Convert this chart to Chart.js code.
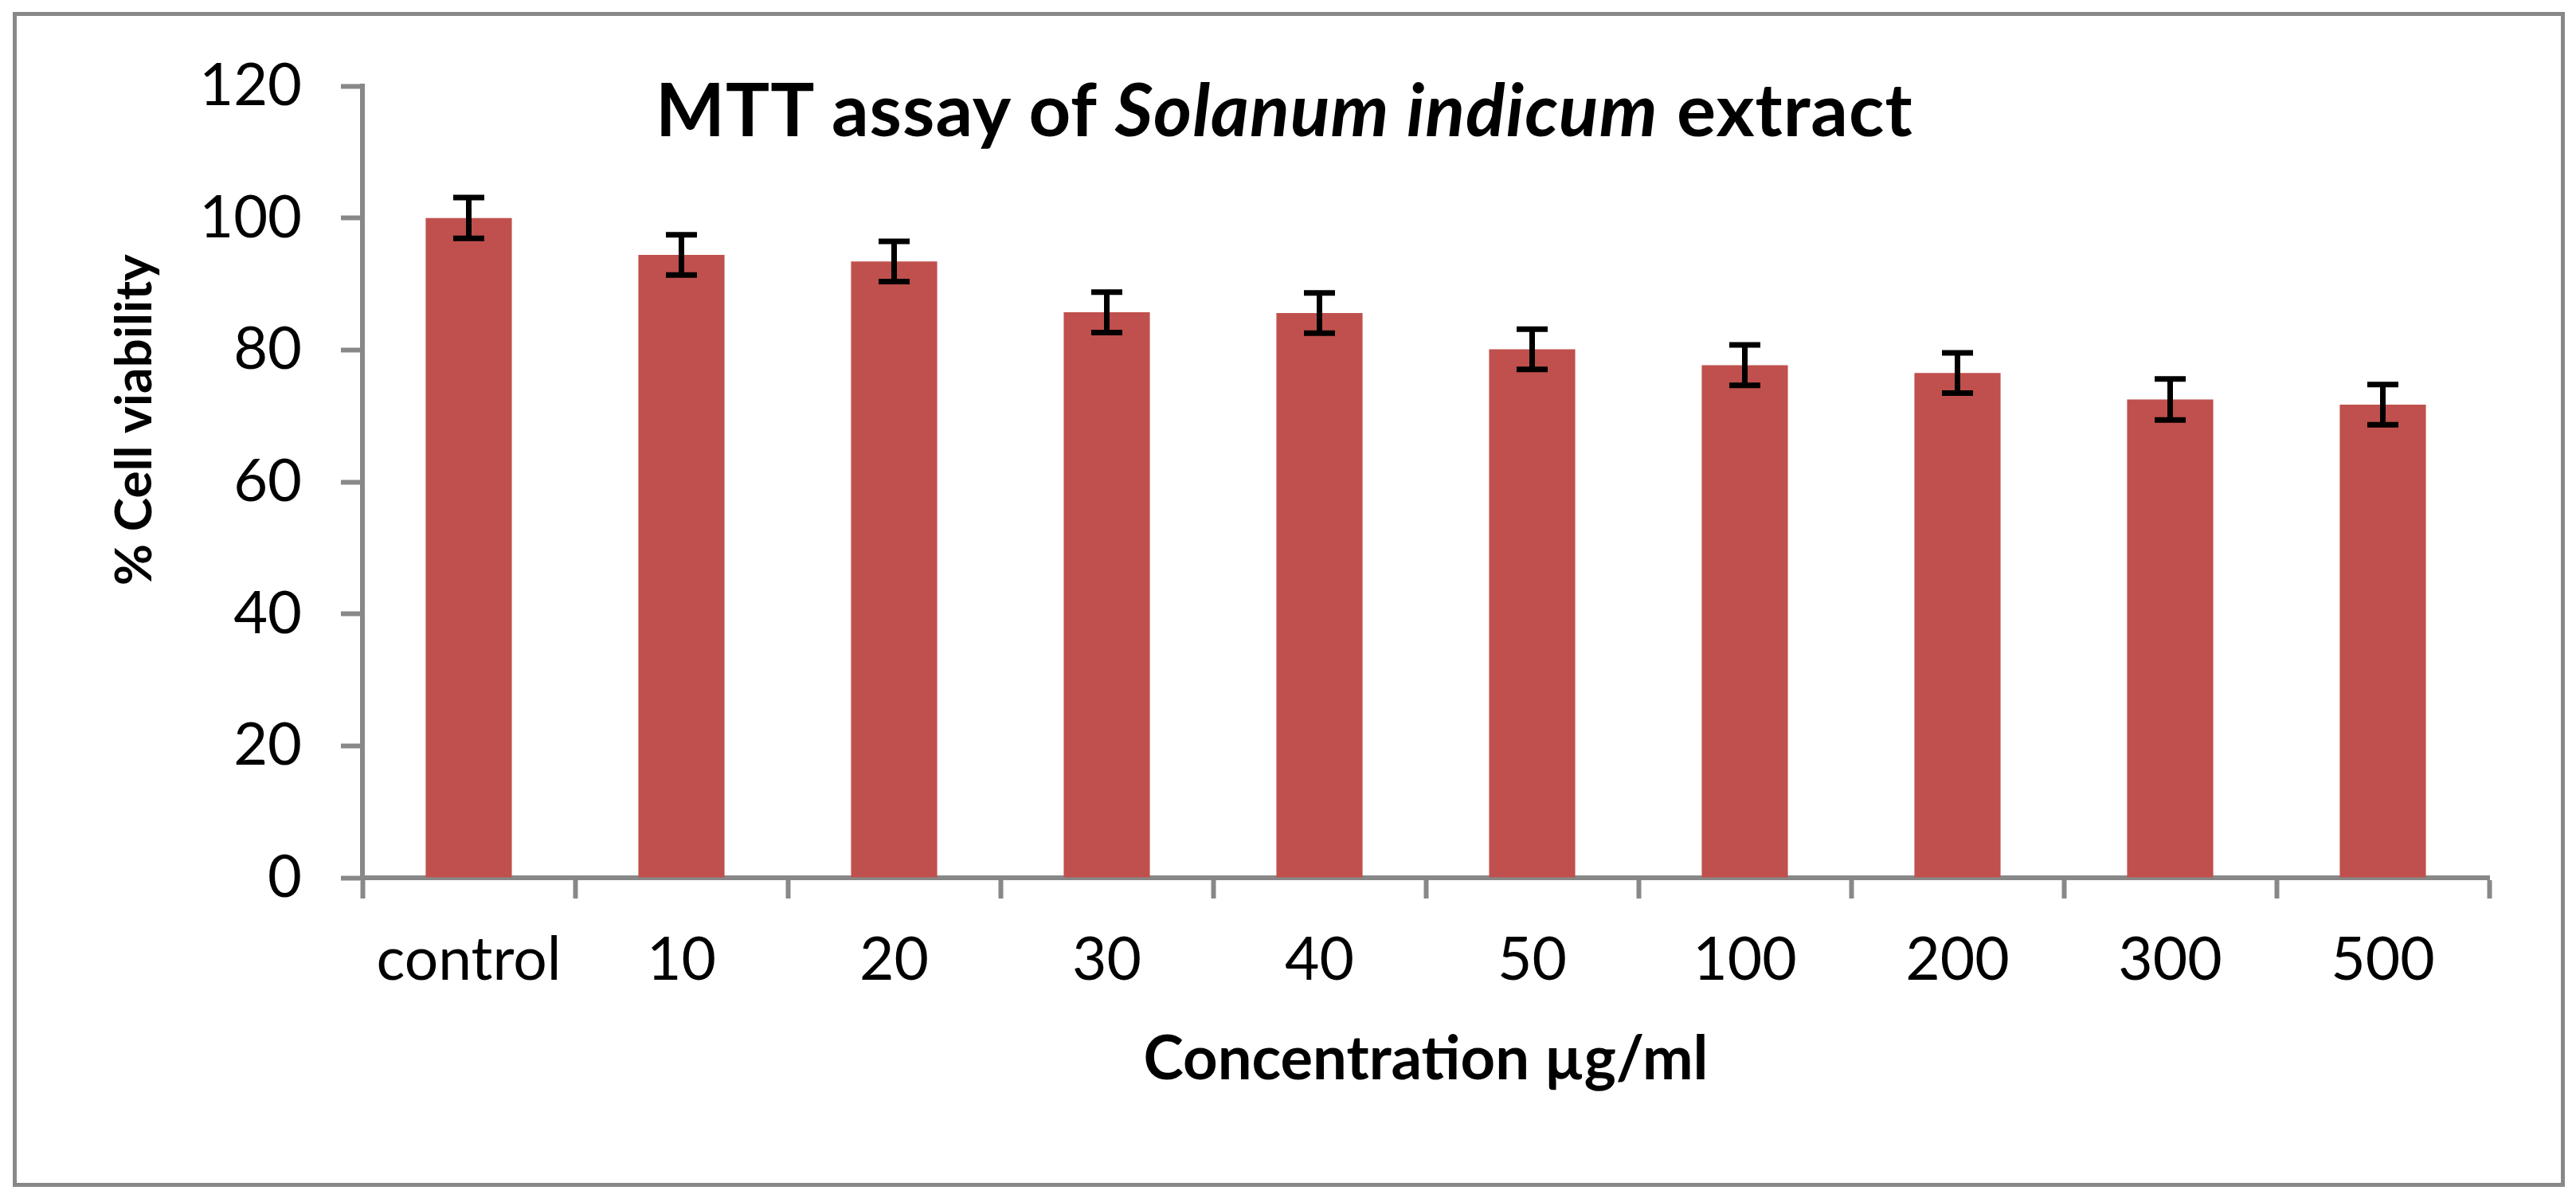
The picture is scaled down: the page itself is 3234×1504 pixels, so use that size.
<!DOCTYPE html>
<html>
<head>
<meta charset="utf-8">
<script src="https://cdn.jsdelivr.net/npm/chart.js@4.4.0/dist/chart.umd.min.js"></script>
<style>
  html, body { margin: 0; padding: 0; background: #fff; }
  #wrap { position: relative; width: 3234px; height: 1504px; overflow: hidden; }
  #frame { position: absolute; left: 16px; top: 15px; width: 3204px; height: 1475px; border: 5px solid #888; box-sizing: border-box; }
  #chart { position: absolute; left: 0; top: 0; }
  #title { position: absolute; left: 823px; top: 90px; font: bold 92px Lato, sans-serif; letter-spacing: 1px; line-height: 1; color: #000; white-space: nowrap; }
</style>
</head>
<body>
<div id="wrap">
  <div id="frame"></div>
  <canvas id="chart" width="3234" height="1504"></canvas>
  <div id="title">MTT assay of <i>Solanum indicum</i> extract</div>
</div>
<script>
// data
const labels = ['control', '10', '20', '30', '40', '50', '100', '200', '300', '500'];
const viability = [100, 94.4, 93.4, 85.7, 85.6, 80.1, 77.7, 76.5, 72.5, 71.7];
const errors = [3.1, 3.05, 3.05, 3.05, 3.05, 3.05, 3.05, 3.05, 3.1, 3.05];
const yTicks = [0, 20, 40, 60, 80, 100, 120];

const BAR_COLOR = '#C0504D';
const AXIS_COLOR = '#888888';

// error bars drawn from the y scale
const errorBars = {
  id: 'errorBars',
  afterDatasetsDraw(chart) {
    const ctx = chart.ctx;
    const y = chart.scales.y;
    const meta = chart.getDatasetMeta(0);
    ctx.save();
    ctx.strokeStyle = '#000';
    ctx.lineWidth = 7;
    ctx.lineCap = 'butt';
    meta.data.forEach((bar, i) => {
      const top = y.getPixelForValue(viability[i] + errors[i]);
      const bot = y.getPixelForValue(viability[i] - errors[i]);
      const half = 19.5;
      ctx.beginPath();
      ctx.moveTo(bar.x, top);
      ctx.lineTo(bar.x, bot);
      ctx.moveTo(bar.x - half, top);
      ctx.lineTo(bar.x + half, top);
      ctx.moveTo(bar.x - half, bot);
      ctx.lineTo(bar.x + half, bot);
      ctx.stroke();
    });
    ctx.restore();
  }
};

new Chart(document.getElementById('chart'), {
  type: 'bar',
  data: {
    labels: labels,
    datasets: [{
      data: viability,
      backgroundColor: BAR_COLOR,
      borderWidth: 0,
      categoryPercentage: 1,
      barPercentage: 0.405
    }]
  },
  options: {
    responsive: false,
    animation: false,
    devicePixelRatio: 1,
    layout: { padding: { left: 40, right: 109, top: 108, bottom: 60 } },
    plugins: { legend: { display: false }, tooltip: { enabled: false } },
    scales: {
      x: {
        grid: { drawOnChartArea: false, drawTicks: true, tickLength: 26, tickColor: AXIS_COLOR, tickWidth: 6 },
        border: { display: true, color: AXIS_COLOR, width: 6 },
        ticks: { color: '#000', font: { family: 'Lato', size: 75 }, padding: 33, maxRotation: 0, autoSkip: false },
        title: { display: true, text: 'Concentration µg/ml', color: '#000', font: { family: 'Lato', size: 76, weight: 'bold' }, padding: { top: 0, bottom: 68 } },
        afterFit(scale) { scale.height = 342; }
      },
      y: {
        min: 0,
        max: 120,
        afterBuildTicks(scale) { scale.ticks = yTicks.map(v => ({ value: v })); },
        grid: { drawOnChartArea: false, drawTicks: true, tickLength: 27, tickColor: AXIS_COLOR, tickWidth: 6 },
        border: { display: true, color: AXIS_COLOR, width: 6 },
        ticks: { color: '#000', font: { family: 'Lato', size: 74 }, padding: 49 },
        // leading spaces nudge the title up to where the reference has it
        title: { display: true, text: '          % Cell viability', color: '#000', font: { family: 'Lato', size: 64, weight: 'bold' }, padding: { top: 91, bottom: 0 } },
        afterFit(scale) { scale.width = 415; }
      }
    }
  },
  plugins: [errorBars]
});
</script>
</body>
</html>
